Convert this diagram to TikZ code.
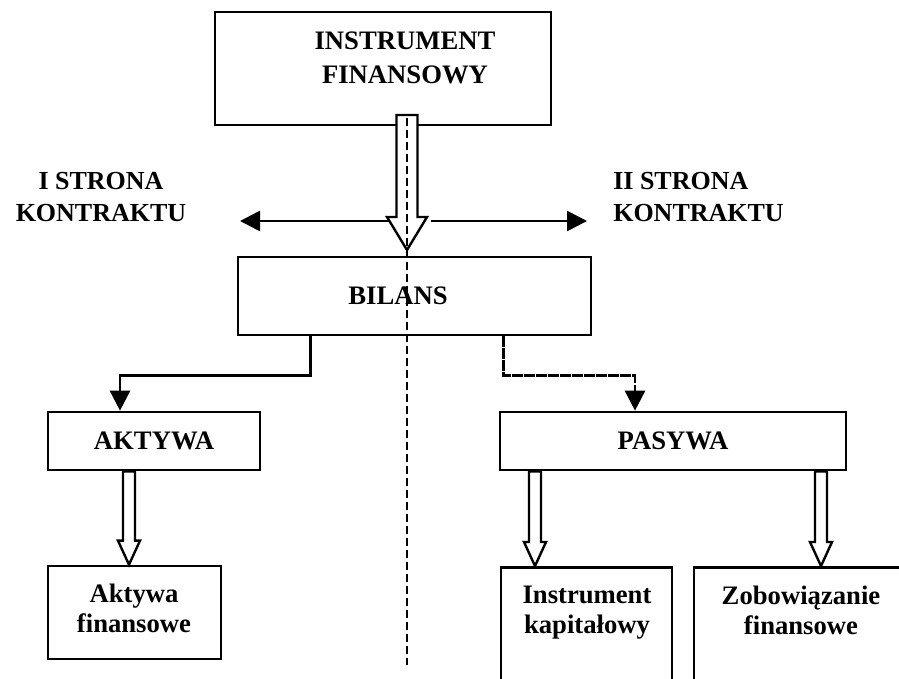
\documentclass[tikz,border=0pt]{standalone}
\usepackage{fontspec}
\setmainfont{Liberation Serif}
\usetikzlibrary{arrows.meta,calc,positioning}

\tikzset{
  box/.style={draw, line width=2pt, inner sep=0pt},
  headtxt/.style={font=\bfseries\fontsize{20}{25.5}\selectfont, align=center, inner sep=0pt},
  boxtxt/.style={font=\bfseries\fontsize{20}{22.5}\selectfont, align=center, inner sep=0pt},
  sidetxt/.style={font=\bfseries\fontsize{19.5}{24}\selectfont, inner sep=0pt},
  link/.style={line width=2pt, -{Triangle[length=15pt,width=15pt]}},
  hollow/.style={draw, line width=1.8pt, fill=white, line join=miter},
  cutline/.style={line width=1.4pt, dash pattern=on 6pt off 3pt},
}

% from, to, shaft half width, head half width, head length
\newcommand{\hollowarrow}[5]{%
  \draw[hollow] ($(#1)+(-#3,0)$) -- ($(#2)+(-#3,-#5)$) -- ($(#2)+(-#4,-#5)$) -- (#2)
    -- ($(#2)+(#4,-#5)$) -- ($(#2)+(#3,-#5)$) -- ($(#1)+(#3,0)$) -- cycle;}

\begin{document}
\begin{tikzpicture}[x=0.75pt,y=-0.75pt]
  \useasboundingbox (0,0) rectangle (899,678);
  \clip (0,0) rectangle (899,678);

  % boxes
  \node[box, minimum width=252pt, minimum height=84.75pt] (fin) at (383,68.5) {};
  \node[headtxt] (fin txt) at (405,58) {INSTRUMENT\\FINANSOWY};
  \node[box, minimum width=264.75pt, minimum height=58.5pt] (bilans) at (414.5,296) {};
  \node[boxtxt] (bilans txt) at (398,296) {BILANS};
  \node[box, boxtxt, minimum width=159pt, minimum height=43.5pt] (akt) at (154,441) {AKTYWA};
  \node[box, boxtxt, minimum width=259.5pt, minimum height=43.5pt] (pas) at (673,441) {PASYWA};
  \node[box, minimum width=129.75pt, minimum height=69.75pt] (aktfin) at (134.5,612.5) {};
  \node[boxtxt, anchor=north] (aktfin txt) at (134,584) {Aktywa\\finansowe};
  \node[box, anchor=north, minimum width=128.25pt, minimum height=115pt] (instr) at (586.5,566) {};
  \node[boxtxt, anchor=north] (instr txt) at (587,586) {Instrument\\kapitałowy};
  \node[box, anchor=north, minimum width=177pt, minimum height=115pt] (zob) at (812,566) {};
  \node[boxtxt, anchor=north] (zob txt) at (801,586) {Zobowiązanie\\finansowe};

  % sides of the contract
  \node[sidetxt, align=center] (side L txt) at (101,197.5) {I STRONA\\KONTRAKTU};
  \node[sidetxt, align=left, anchor=west] (side R txt) at (613,197.5) {II STRONA\\KONTRAKTU};
  \coordinate (split L) at (393,221);
  \coordinate (split R) at (431,221);
  \coordinate (side L) at (240,221);
  \coordinate (side R) at (587,221);
  \draw[link] (split L) -- (side L);
  \draw[link] (split R) -- (side R);

  % balance branches
  \draw[link] ([xshift=55.5pt]bilans.south west) -- ++(0,39) -| ([xshift=-25.5pt]akt.north);
  \draw[link, dash pattern=on 8pt off 1pt] ([xshift=-66.75pt]bilans.south east) -- ++(0,39) -| ([xshift=-28.5pt]pas.north);

  % hollow arrows
  \coordinate (axis top) at (407,115);
  \coordinate (axis tip) at (407,250);
  \hollowarrow{axis top}{axis tip}{10.5}{20}{33}
  \coordinate (akt out) at ([xshift=-18.75pt]akt.south);
  \coordinate (akt in) at (akt out |- aktfin.north);
  \hollowarrow{akt out}{akt in}{6}{11}{24}
  \coordinate (instr out) at ([xshift=-103.5pt]pas.south);
  \coordinate (instr in) at (instr out |- instr.north);
  \hollowarrow{instr out}{instr in}{6}{11}{24}
  \coordinate (zob out) at ([xshift=111pt]pas.south);
  \coordinate (zob in) at (zob out |- zob.north);
  \hollowarrow{zob out}{zob in}{6}{11}{24}

  % dividing line
  \coordinate (cut top) at (407,118);
  \coordinate (cut bot) at (407,665);
  \draw[cutline] (cut top) -- (cut bot);
\end{tikzpicture}
\end{document}
